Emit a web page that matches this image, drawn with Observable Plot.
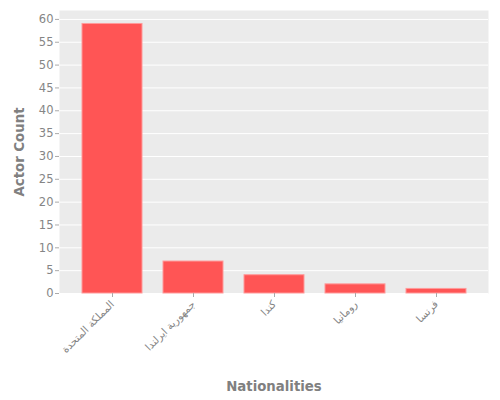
<!DOCTYPE html>
<html>
<head>
<meta charset="utf-8">
<script src="https://cdn.jsdelivr.net/npm/d3@7"></script>
<script src="https://cdn.jsdelivr.net/npm/@observablehq/plot@0.6"></script>
<style>
  body { margin: 0; background: white; }
  g[aria-label="x-axis label"] text, g[aria-label="y-axis label"] text { font-size: 13.3px; font-weight: bold; fill: #808080; }
  g[aria-label="x-axis tick label"] text { font-size: 10.4px; }
</style>
</head>
<body>
<div id="chart"></div>
<script>
// datos
const nationalities = ["المملكة المتحدة", "جمهورية ايرلندا", "كندا", "رومانيا", "فرنسا"];
const actorCounts = [59, 7, 4, 2, 1];
const yTicks = [0, 5, 10, 15, 20, 25, 30, 35, 40, 45, 50, 55, 60];

const data = nationalities.map((n, i) => ({nationality: n, count: actorCounts[i]}));

const chart = Plot.plot({
  width: 500,
  height: 400,
  marginLeft: 59,
  marginRight: 12,
  marginTop: 10,
  marginBottom: 107,
  style: {fontFamily: "DejaVu Sans", fontSize: "11.5px", color: "#808080", background: "white"},
  x: {domain: nationalities, padding: 0.26},
  y: {domain: [0, 61.95]},
  marks: [
    Plot.frame({fill: "#EBEBEB", stroke: null}),
    Plot.gridY(yTicks, {stroke: "white", strokeOpacity: 1, strokeWidth: 1}),
    Plot.barY(data, {x: "nationality", y: "count", fill: "#FF5555", stroke: "#FF9A9A", strokeWidth: 1}),
    Plot.axisY({ticks: yTicks, tickSize: 4, tickPadding: 2, stroke: "#aaa", fill: "#858585",
      label: "Actor Count", labelAnchor: "center", labelArrow: "none", labelOffset: 45}),
    Plot.axisX({tickRotate: -45, tickSize: 4, tickPadding: 5, stroke: "#aaa", fill: "#858585",
      label: "Nationalities", labelAnchor: "center", labelArrow: "none", labelOffset: 97})
  ]
});

d3.select("#chart").append(() => chart);
</script>
</body>
</html>
